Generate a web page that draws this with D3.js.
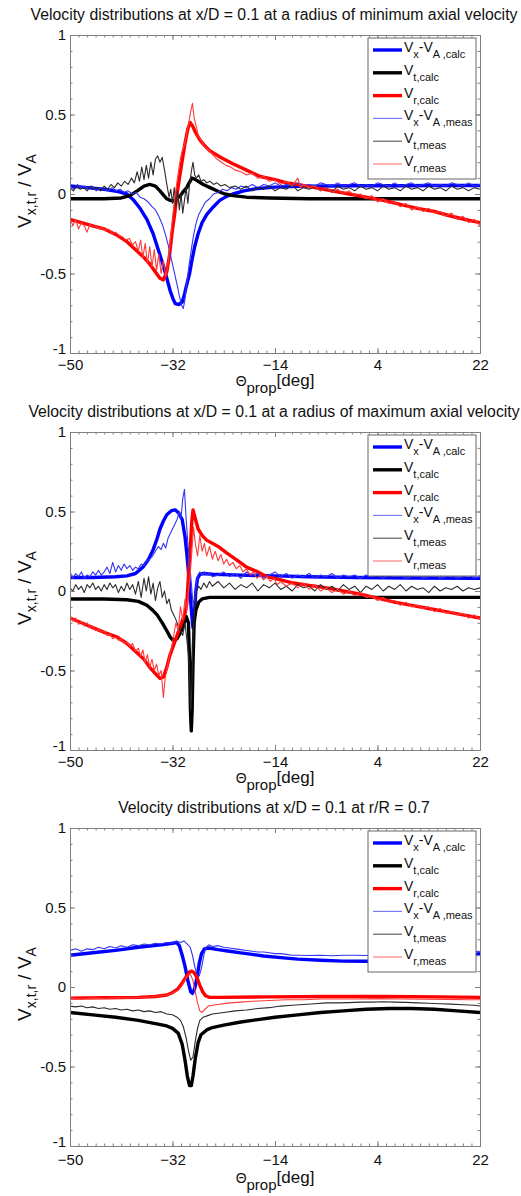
<!DOCTYPE html>
<html>
<head>
<meta charset="utf-8">
<script src="https://cdn.jsdelivr.net/npm/d3@7"></script>
<style>
  body { margin: 0; background: #fff; }
  svg { display: block; }
  text { font-family: Arial, "Liberation Sans", sans-serif; fill: #111; }
</style>
</head>
<body>
<svg id="fig" width="521" height="1196"></svg>
<script>
// ---- axis ticks -------------------------------------------------------
const xTickValues = [-50, -32, -14, 4, 22];
const yTickValues = [-1, -0.5, 0, 0.5, 1];
const yTickLabels = ["-1", "-0.5", "0", "0.5", "1"];
const xMinorStep = 1.5;
const yMinorStep = 0.1;

// ---- titles -----------------------------------------------------------
const panelTitles = [
  "Velocity distributions at x/D = 0.1 at a radius of minimum axial velocity",
  "Velocity distributions at x/D = 0.1 at a radius of maximum axial velocity",
  "Velocity distributions at x/D = 0.1 at r/R = 0.7"
];

// ---- legend labels: [text, isSubscript] -------------------------------
const legendLabels = [
  [["V", 0], ["x", 1], ["-V", 0], ["A ,calc", 1]],
  [["V", 0], ["t,calc", 1]],
  [["V", 0], ["r,calc", 1]],
  [["V", 0], ["x", 1], ["-V", 0], ["A ,meas", 1]],
  [["V", 0], ["t,meas", 1]],
  [["V", 0], ["r,meas", 1]]
];

// ==== Panel 1: radius of minimum axial velocity =========================
const p1VxCalc = [[-50,0.05],[-47,0.04],[-44,0.03],[-41.5,0.015],[-40,0.0],[-38.8,-0.04],[-37.7,-0.09],[-36.5,-0.16],[-35.4,-0.25],[-34.5,-0.35],[-33.7,-0.44],[-33,-0.53],[-32.4,-0.61],[-31.9,-0.66],[-31.5,-0.69],[-30.9,-0.695],[-30.3,-0.68],[-29.9,-0.63],[-29.5,-0.57],[-29,-0.5],[-28.6,-0.42],[-28.1,-0.33],[-27.5,-0.25],[-26.8,-0.18],[-26,-0.13],[-24.8,-0.08],[-23.7,-0.04],[-22.5,-0.015],[-21.4,0.0],[-19.5,0.02],[-17,0.035],[-14,0.043],[-10,0.048],[-5,0.05],[0,0.052],[8,0.052],[15,0.053],[22,0.053]];
const p1VtCalc = [[-50,-0.03],[-44,-0.03],[-41,-0.025],[-39.5,-0.01],[-38.2,0.02],[-37,0.05],[-36,0.06],[-35,0.05],[-34.2,0.02],[-33.5,-0.01],[-33,-0.03],[-32.4,-0.04],[-31.8,-0.045],[-31.3,-0.03],[-30.6,-0.01],[-30,0.02],[-29.5,0.04],[-29,0.075],[-28.6,0.1],[-28.2,0.095],[-27.5,0.08],[-26.6,0.06],[-25.4,0.04],[-24.2,0.02],[-22.8,0.0],[-21.4,-0.01],[-19,-0.02],[-15,-0.025],[-8,-0.03],[0,-0.03],[10,-0.03],[22,-0.03]];
const p1VrCalc = [[-50,-0.16],[-48,-0.18],[-46,-0.2],[-44,-0.22],[-41.7,-0.26],[-40,-0.3],[-38.2,-0.36],[-37,-0.4],[-36,-0.44],[-35,-0.49],[-34.2,-0.53],[-33.6,-0.54],[-33,-0.49],[-32.5,-0.38],[-32.1,-0.25],[-31.6,-0.12],[-31.2,0.0],[-30.7,0.12],[-30.3,0.21],[-29.8,0.32],[-29.3,0.41],[-28.9,0.45],[-28.5,0.43],[-28,0.39],[-27.2,0.34],[-26.5,0.31],[-25.4,0.27],[-23.5,0.23],[-21.4,0.19],[-19,0.15],[-16.6,0.11],[-14,0.09],[-11.9,0.07],[-10,0.06],[-7,0.04],[-4,0.02],[-1,0.0],[2,-0.02],[5,-0.04],[8,-0.065],[11,-0.09],[14,-0.11],[17,-0.14],[20,-0.165],[22,-0.18]];
const p1VxMeas = [[-50,0.05],[-49.3,0.03],[-48.7,0.06],[-48,0.04],[-47.4,0.05],[-46.8,0.03],[-46.1,0.05],[-45.4,0.02],[-44.7,0.04],[-44,0.03],[-43.3,0.02],[-42.6,0.04],[-41.9,0.02],[-41.2,0.03],[-40.5,0.01],[-39.8,0.02],[-39.1,0.0],[-38.4,0.01],[-37.7,-0.02],[-37,-0.03],[-36.3,-0.05],[-35.6,-0.08],[-35,-0.1],[-34.4,-0.14],[-33.8,-0.19],[-33.2,-0.26],[-32.7,-0.33],[-32.2,-0.41],[-31.7,-0.49],[-31.2,-0.57],[-30.8,-0.64],[-30.4,-0.7],[-30.1,-0.72],[-29.8,-0.66],[-29.5,-0.56],[-29.1,-0.45],[-28.7,-0.35],[-28.3,-0.26],[-27.9,-0.19],[-27.4,-0.13],[-26.8,-0.09],[-26.2,-0.05],[-25.5,-0.03],[-24.8,0.0],[-24,0.01],[-23.2,0.03],[-22.4,0.02],[-21.6,0.04],[-20.8,0.03],[-20,0.05],[-19,0.04],[-18,0.06],[-17,0.04],[-16,0.06],[-15,0.05],[-14,0.07],[-13,0.05],[-12,0.06],[-11,0.05],[-10,0.07],[-9,0.05],[-8,0.06],[-7,0.05],[-6,0.07],[-5,0.06],[-4,0.05],[-3,0.07],[-2,0.05],[-1,0.06],[0,0.07],[1,0.05],[2,0.06],[3,0.05],[4,0.07],[5,0.06],[6,0.05],[7,0.07],[8,0.05],[9,0.06],[10,0.07],[11,0.05],[12,0.06],[13,0.07],[14,0.05],[15,0.06],[16,0.05],[17,0.07],[18,0.06],[19,0.05],[20,0.07],[21,0.05],[22,0.06]];
const p1VtMeas = [[-50,0.04],[-49.4,0.02],[-48.8,0.05],[-48.2,0.03],[-47.6,0.04],[-47,0.02],[-46.4,0.05],[-45.8,0.03],[-45.2,0.04],[-44.6,0.02],[-44,0.05],[-43.4,0.03],[-42.8,0.06],[-42.2,0.04],[-41.6,0.07],[-41,0.05],[-40.4,0.08],[-39.8,0.06],[-39.2,0.1],[-38.7,0.07],[-38.2,0.14],[-37.8,0.08],[-37.4,0.17],[-37,0.09],[-36.6,0.18],[-36.2,0.1],[-35.8,0.2],[-35.4,0.12],[-35,0.22],[-34.6,0.24],[-34.2,0.2],[-33.8,0.23],[-33.4,0.15],[-33,0.06],[-32.6,-0.02],[-32.3,0.03],[-32,-0.06],[-31.7,0.04],[-31.4,-0.08],[-31.1,0.02],[-30.8,-0.1],[-30.5,0.0],[-30.2,-0.12],[-29.9,-0.04],[-29.6,0.04],[-29.3,-0.06],[-29,0.06],[-28.7,0.14],[-28.4,0.2],[-28.1,0.12],[-27.8,0.1],[-27.4,0.12],[-27,0.08],[-26.5,0.09],[-26,0.07],[-25.4,0.08],[-24.8,0.06],[-24.2,0.07],[-23.5,0.05],[-22.8,0.06],[-22,0.04],[-21,0.05],[-20,0.03],[-19,0.05],[-18,0.02],[-17,0.04],[-16,0.03],[-15,0.05],[-14,0.02],[-13,0.04],[-12,0.03],[-11,0.06],[-10,0.02],[-9,0.04],[-8,0.03],[-7,0.05],[-6,0.02],[-5,0.04],[-4,0.01],[-3,0.05],[-2,0.03],[-1,0.04],[0,0.02],[1,0.05],[2,0.03],[3,0.04],[4,0.02],[5,0.05],[6,0.03],[7,0.04],[8,0.02],[9,0.05],[10,0.03],[11,0.04],[12,0.02],[13,0.05],[14,0.03],[15,0.04],[16,0.02],[17,0.05],[18,0.03],[19,0.04],[20,0.02],[21,0.04],[22,0.03]];
const p1VrMeas = [[-50,-0.15],[-49.5,-0.2],[-49,-0.16],[-48.5,-0.22],[-48,-0.18],[-47.5,-0.2],[-47,-0.24],[-46.5,-0.19],[-46,-0.21],[-45.5,-0.2],[-45,-0.22],[-44.4,-0.21],[-43.8,-0.23],[-43.2,-0.22],[-42.6,-0.25],[-42,-0.24],[-41.4,-0.26],[-40.8,-0.27],[-40.2,-0.29],[-39.6,-0.28],[-39,-0.32],[-38.5,-0.3],[-38,-0.36],[-37.6,-0.29],[-37.2,-0.4],[-36.8,-0.31],[-36.4,-0.44],[-36,-0.33],[-35.6,-0.46],[-35.2,-0.35],[-34.8,-0.48],[-34.4,-0.38],[-34,-0.5],[-33.6,-0.42],[-33.2,-0.52],[-32.8,-0.45],[-32.4,-0.3],[-32,-0.15],[-31.6,-0.02],[-31.2,0.08],[-30.8,0.18],[-30.4,0.26],[-30,0.3],[-29.6,0.36],[-29.2,0.44],[-28.8,0.52],[-28.5,0.57],[-28.2,0.48],[-27.8,0.42],[-27.4,0.36],[-27,0.34],[-26.4,0.3],[-25.8,0.28],[-25,0.25],[-24.2,0.22],[-23.4,0.2],[-22.6,0.18],[-21.8,0.17],[-21,0.15],[-20,0.14],[-19,0.12],[-18,0.13],[-17,0.1],[-16,0.11],[-15,0.08],[-14,0.09],[-13,0.06],[-12,0.08],[-11,0.05],[-10,0.1],[-9.5,0.04],[-9,0.06],[-8,0.04],[-7,0.05],[-6,0.02],[-5,0.04],[-4,0.01],[-3,0.03],[-2,0.0],[-1,0.02],[0,-0.01],[1,0.0],[2,-0.03],[3,-0.01],[4,-0.05],[5,-0.03],[6,-0.06],[7,-0.05],[8,-0.08],[9,-0.06],[10,-0.1],[11,-0.08],[12,-0.11],[13,-0.09],[14,-0.12],[15,-0.11],[16,-0.14],[17,-0.12],[18,-0.16],[19,-0.14],[20,-0.18],[21,-0.16],[22,-0.2]];

// ==== Panel 2: radius of maximum axial velocity =========================
const p2VxCalc = [[-50,0.085],[-46,0.085],[-42,0.09],[-40,0.095],[-38.5,0.11],[-37.2,0.15],[-36.2,0.2],[-35.4,0.26],[-34.7,0.33],[-34.2,0.39],[-33.6,0.44],[-33,0.48],[-32.2,0.505],[-31.5,0.51],[-30.9,0.49],[-30.3,0.45],[-29.8,0.34],[-29.5,0.24],[-29.2,0.12],[-28.9,-0.02],[-28.6,-0.16],[-28.4,-0.23],[-28.2,-0.18],[-27.9,0.0],[-27.6,0.08],[-27.2,0.105],[-26.6,0.11],[-25,0.105],[-20,0.1],[-14,0.095],[-8,0.09],[0,0.085],[10,0.082],[22,0.08]];
const p2VtCalc = [[-50,-0.05],[-44,-0.05],[-40,-0.055],[-38,-0.065],[-36.5,-0.09],[-35.5,-0.12],[-34.7,-0.15],[-33.8,-0.2],[-33,-0.25],[-32.4,-0.29],[-31.9,-0.31],[-31.2,-0.3],[-30.6,-0.26],[-30.1,-0.22],[-29.6,-0.16],[-29.2,-0.2],[-29,-0.45],[-28.85,-0.75],[-28.7,-0.88],[-28.55,-0.75],[-28.4,-0.45],[-28.2,-0.2],[-27.9,-0.12],[-27.4,-0.07],[-26.8,-0.05],[-25.5,-0.04],[-20,-0.04],[-10,-0.04],[0,-0.04],[10,-0.04],[22,-0.04]];
const p2VrCalc = [[-50,-0.17],[-48,-0.2],[-46,-0.23],[-44,-0.26],[-41.7,-0.29],[-40,-0.33],[-38.2,-0.39],[-37,-0.43],[-36,-0.48],[-35,-0.52],[-34.2,-0.55],[-33.6,-0.54],[-33,-0.48],[-32.5,-0.41],[-31.9,-0.35],[-31.3,-0.29],[-30.7,-0.23],[-30.2,-0.18],[-29.8,-0.14],[-29.5,-0.08],[-29.3,0.03],[-29.05,0.18],[-28.8,0.32],[-28.6,0.44],[-28.4,0.51],[-28.1,0.47],[-27.5,0.39],[-26.8,0.35],[-26,0.32],[-24,0.28],[-22.5,0.24],[-20.5,0.19],[-19,0.15],[-17,0.12],[-15.4,0.09],[-13,0.07],[-10.8,0.05],[-8,0.035],[-5,0.02],[-2,0.0],[1,-0.02],[4,-0.045],[7,-0.07],[10,-0.09],[13,-0.11],[16,-0.13],[19,-0.15],[22,-0.17]];
const p2VxMeas = [[-50,0.12],[-49.5,0.08],[-49,0.11],[-48.5,0.09],[-48,0.12],[-47.5,0.08],[-47,0.1],[-46.5,0.09],[-46,0.12],[-45.5,0.1],[-45,0.13],[-44.5,0.1],[-44,0.12],[-43.5,0.15],[-43,0.11],[-42.5,0.18],[-42,0.12],[-41.5,0.16],[-41,0.13],[-40.5,0.17],[-40,0.14],[-39.5,0.16],[-39,0.13],[-38.5,0.15],[-38,0.14],[-37.5,0.17],[-37,0.16],[-36.5,0.19],[-36,0.2],[-35.5,0.22],[-35,0.25],[-34.5,0.28],[-34,0.26],[-33.6,0.3],[-33.2,0.27],[-32.8,0.33],[-32.4,0.36],[-32,0.39],[-31.6,0.42],[-31.2,0.45],[-30.8,0.5],[-30.5,0.46],[-30.2,0.58],[-29.9,0.64],[-29.6,0.45],[-29.3,0.3],[-29,0.18],[-28.7,0.05],[-28.4,-0.08],[-28.1,-0.05],[-27.8,0.05],[-27.5,0.1],[-27.2,0.12],[-26.8,0.1],[-26.4,0.12],[-26,0.1],[-25.5,0.11],[-25,0.09],[-24,0.1],[-23,0.12],[-22,0.09],[-21,0.11],[-20,0.08],[-19,0.12],[-18,0.1],[-17,0.11],[-16,0.08],[-15,0.1],[-14,0.12],[-13,0.09],[-12,0.11],[-11,0.08],[-10,0.1],[-9,0.09],[-8,0.11],[-7,0.08],[-6,0.1],[-5,0.09],[-4,0.11],[-3,0.08],[-2,0.1],[-1,0.09],[0,0.1],[1,0.08],[2,0.1],[3,0.09],[4,0.1],[5,0.08],[6,0.1],[7,0.09],[8,0.1],[9,0.08],[10,0.09],[11,0.1],[12,0.08],[13,0.09],[14,0.1],[15,0.08],[16,0.09],[17,0.1],[18,0.08],[19,0.09],[20,0.1],[21,0.08],[22,0.09]];
const p2VtMeas = [[-50,0.02],[-49.5,0.0],[-49,0.04],[-48.5,0.01],[-48,0.03],[-47.5,-0.01],[-47,0.04],[-46.5,0.02],[-46,0.05],[-45.5,0.01],[-45,0.03],[-44.5,0.0],[-44,0.04],[-43.5,0.01],[-43,0.05],[-42.5,0.02],[-42,0.04],[-41.5,-0.01],[-41,0.03],[-40.5,0.0],[-40,0.05],[-39.5,0.01],[-39,0.04],[-38.5,-0.02],[-38,0.06],[-37.5,-0.04],[-37,0.08],[-36.6,0.0],[-36.2,0.09],[-35.8,-0.02],[-35.4,0.05],[-35,-0.06],[-34.6,0.02],[-34.2,0.06],[-33.8,-0.04],[-33.4,0.0],[-33,-0.08],[-32.6,-0.05],[-32.2,-0.12],[-31.8,-0.15],[-31.4,-0.18],[-31,-0.22],[-30.6,-0.25],[-30.2,-0.28],[-29.8,-0.2],[-29.5,-0.3],[-29.2,-0.4],[-29,-0.55],[-28.8,-0.75],[-28.6,-0.6],[-28.4,-0.3],[-28.1,-0.1],[-27.8,0.0],[-27.4,0.03],[-27,0.01],[-26.5,0.05],[-26,0.02],[-25.5,0.06],[-25,0.03],[-24,0.06],[-23,0.02],[-22,0.05],[-21,0.01],[-20,0.04],[-19,0.02],[-18,0.05],[-17,0.0],[-16,0.04],[-15,0.02],[-14,0.05],[-13,0.01],[-12,0.03],[-11,0.0],[-10,0.04],[-9,0.02],[-8,0.03],[-7,0.0],[-6,0.04],[-5,0.01],[-4,0.03],[-3,0.0],[-2,0.04],[-1,0.01],[0,0.03],[1,-0.01],[2,0.03],[3,0.01],[4,0.04],[5,0.0],[6,0.03],[7,0.01],[8,0.04],[9,0.0],[10,0.03],[11,0.01],[12,0.02],[13,-0.01],[14,0.03],[15,0.0],[16,0.02],[17,0.01],[18,0.03],[19,0.0],[20,0.02],[21,0.01],[22,0.02]];
const p2VrMeas = [[-50,-0.15],[-49.5,-0.19],[-49,-0.17],[-48.5,-0.21],[-48,-0.19],[-47.5,-0.22],[-47,-0.2],[-46.5,-0.23],[-46,-0.22],[-45.5,-0.25],[-45,-0.24],[-44.5,-0.26],[-44,-0.25],[-43.5,-0.28],[-43,-0.27],[-42.5,-0.3],[-42,-0.29],[-41.5,-0.31],[-41,-0.3],[-40.5,-0.33],[-40,-0.32],[-39.5,-0.35],[-39,-0.33],[-38.5,-0.38],[-38,-0.36],[-37.6,-0.41],[-37.2,-0.37],[-36.8,-0.45],[-36.4,-0.4],[-36,-0.48],[-35.6,-0.43],[-35.2,-0.5],[-34.8,-0.46],[-34.4,-0.53],[-34,-0.5],[-33.6,-0.67],[-33.3,-0.55],[-33,-0.5],[-32.6,-0.42],[-32.2,-0.36],[-31.8,-0.28],[-31.4,-0.2],[-31,-0.25],[-30.6,-0.1],[-30.2,-0.18],[-29.8,-0.05],[-29.5,-0.12],[-29.2,0.0],[-28.9,0.1],[-28.6,0.25],[-28.3,0.4],[-28,0.3],[-27.6,0.22],[-27.2,0.35],[-26.8,0.25],[-26.4,0.3],[-26,0.22],[-25.5,0.28],[-25,0.2],[-24.5,0.25],[-24,0.19],[-23.5,0.23],[-23,0.17],[-22.5,0.2],[-22,0.16],[-21.4,0.18],[-20.8,0.14],[-20.2,0.16],[-19.6,0.12],[-19,0.14],[-18.4,0.1],[-17.8,0.12],[-17.2,0.08],[-16.6,0.1],[-16,0.07],[-15.4,0.09],[-14.8,0.06],[-14.2,0.08],[-13.6,0.04],[-13,0.06],[-12,0.03],[-11,0.05],[-10,0.02],[-9,0.05],[-8,0.01],[-7,0.04],[-6,0.0],[-5,0.02],[-4,-0.01],[-3,0.01],[-2,-0.02],[-1,0.0],[0,-0.03],[1,-0.01],[2,-0.04],[3,-0.03],[4,-0.06],[5,-0.04],[6,-0.07],[7,-0.06],[8,-0.09],[9,-0.07],[10,-0.1],[11,-0.09],[12,-0.11],[13,-0.1],[14,-0.13],[15,-0.11],[16,-0.14],[17,-0.13],[18,-0.15],[19,-0.14],[20,-0.17],[21,-0.15],[22,-0.18]];

// ==== Panel 3: r/R = 0.7 ================================================
const p3VxCalc = [[-50,0.2],[-46,0.215],[-42,0.23],[-38,0.25],[-34,0.265],[-32,0.275],[-31.3,0.28],[-30.8,0.26],[-30.3,0.2],[-29.8,0.13],[-29.3,0.04],[-28.8,-0.03],[-28.5,-0.04],[-28.1,-0.01],[-27.7,0.06],[-27.3,0.15],[-26.9,0.21],[-26.4,0.24],[-25.6,0.245],[-24,0.235],[-22,0.225],[-20,0.215],[-18,0.205],[-16,0.195],[-13,0.185],[-10,0.175],[-6,0.168],[-2,0.163],[2,0.162],[6,0.163],[10,0.17],[14,0.18],[18,0.195],[22,0.21]];
const p3VtCalc = [[-50,-0.16],[-46,-0.175],[-42,-0.19],[-38,-0.21],[-35,-0.23],[-33,-0.245],[-32,-0.26],[-31,-0.29],[-30.3,-0.36],[-29.8,-0.46],[-29.4,-0.56],[-29,-0.62],[-28.7,-0.62],[-28.4,-0.56],[-28,-0.45],[-27.5,-0.35],[-27,-0.3],[-26,-0.27],[-25,-0.255],[-23,-0.24],[-20,-0.22],[-17,-0.205],[-14,-0.19],[-10,-0.175],[-6,-0.16],[-2,-0.15],[2,-0.14],[6,-0.135],[10,-0.135],[14,-0.14],[18,-0.15],[22,-0.16]];
const p3VrCalc = [[-50,-0.07],[-44,-0.068],[-38,-0.065],[-35,-0.06],[-33,-0.05],[-32,-0.035],[-31,-0.01],[-30.2,0.03],[-29.5,0.07],[-29,0.095],[-28.6,0.1],[-28.2,0.09],[-27.7,0.06],[-27.2,0.01],[-26.7,-0.03],[-26.2,-0.055],[-25.5,-0.065],[-24,-0.065],[-15,-0.062],[-5,-0.06],[5,-0.06],[15,-0.062],[22,-0.065]];
const p3VxMeas = [[-50,0.23],[-49,0.24],[-48,0.225],[-47,0.24],[-46,0.235],[-45,0.25],[-44,0.24],[-43,0.255],[-42,0.245],[-41,0.26],[-40,0.25],[-39,0.265],[-38,0.26],[-37,0.27],[-36,0.265],[-35,0.275],[-34,0.27],[-33,0.28],[-32,0.275],[-31.3,0.29],[-30.6,0.28],[-30,0.29],[-29.4,0.27],[-28.9,0.25],[-28.5,0.2],[-28.1,0.13],[-27.7,0.08],[-27.3,0.07],[-26.9,0.12],[-26.5,0.2],[-26.1,0.25],[-25.6,0.265],[-25,0.255],[-24,0.26],[-23,0.25],[-22,0.245],[-21,0.24],[-20,0.235],[-19,0.23],[-18,0.225],[-17,0.22],[-16,0.22],[-15,0.215],[-14,0.21],[-13,0.21],[-12,0.205],[-11,0.2],[-10,0.2],[-8,0.198],[-6,0.2],[-4,0.197],[-2,0.2],[0,0.2],[2,0.198],[4,0.2],[6,0.2],[8,0.202],[10,0.205],[12,0.205],[14,0.21],[16,0.212],[18,0.215],[20,0.22],[22,0.225]];
const p3VtMeas = [[-50,-0.12],[-49,-0.125],[-48,-0.12],[-47,-0.13],[-46,-0.125],[-45,-0.135],[-44,-0.13],[-43,-0.14],[-42,-0.135],[-41,-0.145],[-40,-0.14],[-39,-0.15],[-38,-0.145],[-37,-0.155],[-36,-0.15],[-35,-0.16],[-34,-0.155],[-33,-0.17],[-32,-0.175],[-31.2,-0.19],[-30.6,-0.21],[-30.1,-0.25],[-29.6,-0.32],[-29.2,-0.4],[-28.8,-0.46],[-28.4,-0.44],[-28,-0.34],[-27.6,-0.26],[-27.2,-0.21],[-26.6,-0.19],[-25.8,-0.18],[-25,-0.17],[-23,-0.16],[-21,-0.15],[-19,-0.145],[-17,-0.135],[-15,-0.13],[-13,-0.12],[-11,-0.115],[-9,-0.11],[-7,-0.105],[-5,-0.1],[-3,-0.1],[-1,-0.098],[1,-0.095],[3,-0.095],[5,-0.093],[7,-0.095],[9,-0.097],[11,-0.1],[13,-0.102],[15,-0.105],[17,-0.108],[19,-0.112],[21,-0.115],[22,-0.12]];
const p3VrMeas = [[-50,-0.07],[-48,-0.075],[-46,-0.07],[-44,-0.072],[-42,-0.068],[-40,-0.07],[-38,-0.066],[-36,-0.063],[-34,-0.055],[-33,-0.05],[-32,-0.04],[-31,-0.02],[-30.3,0.01],[-29.7,0.05],[-29.2,0.08],[-28.8,0.075],[-28.4,0.04],[-28,-0.03],[-27.6,-0.1],[-27.2,-0.15],[-26.8,-0.16],[-26.3,-0.14],[-25.7,-0.12],[-25,-0.115],[-24,-0.11],[-22,-0.1],[-20,-0.095],[-18,-0.09],[-15,-0.085],[-12,-0.08],[-9,-0.08],[-6,-0.075],[-3,-0.075],[0,-0.075],[4,-0.073],[8,-0.075],[12,-0.077],[16,-0.078],[20,-0.08],[22,-0.08]];

// ---- series groups, in legend order -----------------------------------
const panelSeries = [
  [p1VxCalc, p1VtCalc, p1VrCalc, p1VxMeas, p1VtMeas, p1VrMeas],
  [p2VxCalc, p2VtCalc, p2VrCalc, p2VxMeas, p2VtMeas, p2VrMeas],
  [p3VxCalc, p3VtCalc, p3VrCalc, p3VxMeas, p3VtMeas, p3VrMeas]
];

// ---- styling ------------------------------------------------------------
const seriesColor = ["#0000ff", "#000000", "#ff0000", "#3434f4", "#2b2b2b", "#ff3a3a"];
const legendColor = ["#0000ff", "#000000", "#ff0000", "#7070ee", "#555555", "#ff6f6f"];
const seriesWidth = [3.4, 3.4, 3.4, 1.1, 1.1, 1.1];
const axisGray = "#808080";

const layout = {
  left: 70, right: 480, height: 318,
  tops: [35, 432, 828],
  tickPad: [4, 4, 6],
  xLabelDrop: [33, 33, 37]
};

const svg = d3.select("#fig");
svg.append("rect").attr("width", 521).attr("height", 1196).attr("fill", "#fff");

const x = d3.scaleLinear().domain([-50, 22]).range([layout.left, layout.right]);
const xMinor = d3.range(-50, 22.001, xMinorStep).map(v => +v.toFixed(2));
const yMinor = d3.range(-1, 1.0001, yMinorStep).map(v => +v.toFixed(2));

panelSeries.forEach((series, pi) => {
  const top = layout.tops[pi];
  const bottom = top + layout.height;
  const y = d3.scaleLinear().domain([-1, 1]).range([bottom, top]);
  const g = svg.append("g");

  // title
  g.append("text")
    .attr("x", 274).attr("y", top - 15)
    .attr("text-anchor", "middle")
    .style("font-size", "15.8px")
    .text(panelTitles[pi]);

  // clip region for curves
  const clipId = "clip" + pi;
  svg.append("clipPath").attr("id", clipId)
    .append("rect")
    .attr("x", layout.left).attr("y", top)
    .attr("width", layout.right - layout.left).attr("height", layout.height);

  // curves
  const line = d3.line().x(d => x(d[0])).y(d => y(d[1]));
  const curves = g.append("g").attr("clip-path", `url(#${clipId})`);
  series.forEach((data, si) => {
    curves.append("path")
      .datum(data)
      .attr("d", line)
      .attr("fill", "none")
      .attr("stroke", seriesColor[si])
      .attr("stroke-width", seriesWidth[si])
      .attr("stroke-linejoin", "round");
  });

  // axes: minor then major ticks on all four sides, ticks pointing inward
  const styleAxis = sel => {
    sel.selectAll("path.domain").attr("stroke", axisGray).attr("stroke-width", 1);
    sel.selectAll(".tick line").attr("stroke", axisGray);
    sel.selectAll(".tick text").style("font-size", "15px").attr("fill", "#111")
      .style("font-family", "Arial, 'Liberation Sans', sans-serif");
  };
  const addAxis = (axis, tx, ty) => g.append("g")
    .attr("transform", `translate(${tx},${ty})`).call(axis).call(styleAxis);

  addAxis(d3.axisBottom(x).tickValues(xMinor).tickFormat("").tickSizeInner(-2.5).tickSizeOuter(0), 0, bottom);
  addAxis(d3.axisTop(x).tickValues(xMinor).tickFormat("").tickSizeInner(-2.5).tickSizeOuter(0), 0, top);
  addAxis(d3.axisLeft(y).tickValues(yMinor).tickFormat("").tickSizeInner(-2.5).tickSizeOuter(0), layout.left, 0);
  addAxis(d3.axisRight(y).tickValues(yMinor).tickFormat("").tickSizeInner(-2.5).tickSizeOuter(0), layout.right, 0);

  addAxis(d3.axisBottom(x).tickValues(xTickValues).tickFormat(d3.format("d"))
    .tickSizeInner(-5).tickSizeOuter(0).tickPadding(layout.tickPad[pi] + 2), 0, bottom);
  addAxis(d3.axisTop(x).tickValues(xTickValues).tickFormat("").tickSizeInner(-5).tickSizeOuter(0), 0, top);
  const yAxisG = addAxis(d3.axisLeft(y).tickValues(yTickValues).tickFormat((d, i) => yTickLabels[i])
    .tickSizeInner(-5).tickSizeOuter(0).tickPadding(4), layout.left, 0);
  // the bottom "-1" sits just above the corner, clear of the x labels
  yAxisG.selectAll(".tick text").filter(d => d === -1).attr("dy", "0.05em");
  addAxis(d3.axisRight(y).tickValues(yTickValues).tickFormat("").tickSizeInner(-5).tickSizeOuter(0), layout.right, 0);

  // y axis label
  const yl = g.append("text")
    .attr("transform", `translate(31,${top + 156}) rotate(-90)`)
    .attr("text-anchor", "middle")
    .style("font-size", "19px");
  yl.append("tspan").text("V");
  yl.append("tspan").attr("dy", 5).style("font-size", "14px").text("x,t,r");
  yl.append("tspan").attr("dy", -5).text(" / V");
  yl.append("tspan").attr("dy", 5).style("font-size", "14px").text("A");

  // x axis label
  const xl = g.append("text")
    .attr("x", 275).attr("y", bottom + layout.xLabelDrop[pi])
    .attr("text-anchor", "middle")
    .style("font-size", "16px");
  xl.append("tspan").style("font-size", "14px").text("\u0398");
  xl.append("tspan").attr("dy", 7).style("font-size", "15px").text("prop");
  xl.append("tspan").attr("dy", -7).style("font-size", "17px").text("[deg]");

  // legend
  const lg = g.append("g").attr("transform", `translate(368,${top + 3})`);
  lg.append("rect")
    .attr("width", 108).attr("height", 141)
    .attr("fill", "#fff").attr("stroke", "#666").attr("stroke-width", 1);
  legendLabels.forEach((parts, li) => {
    const ly = 12 + li * 22.8;
    lg.append("line")
      .attr("x1", 5).attr("x2", 34).attr("y1", ly).attr("y2", ly)
      .attr("stroke", legendColor[li]).attr("stroke-width", seriesWidth[li]);
    const t = lg.append("text").attr("x", 36).attr("y", ly + 2).style("font-size", "14px");
    let sub = 0;
    parts.forEach(([str, isSub]) => {
      const sp = t.append("tspan").text(str);
      if (isSub) sp.style("font-size", "11px");
      if (isSub !== sub) { sp.attr("dy", isSub ? 6 : -6); sub = isSub; }
    });
  });
});
</script>
</body>
</html>
